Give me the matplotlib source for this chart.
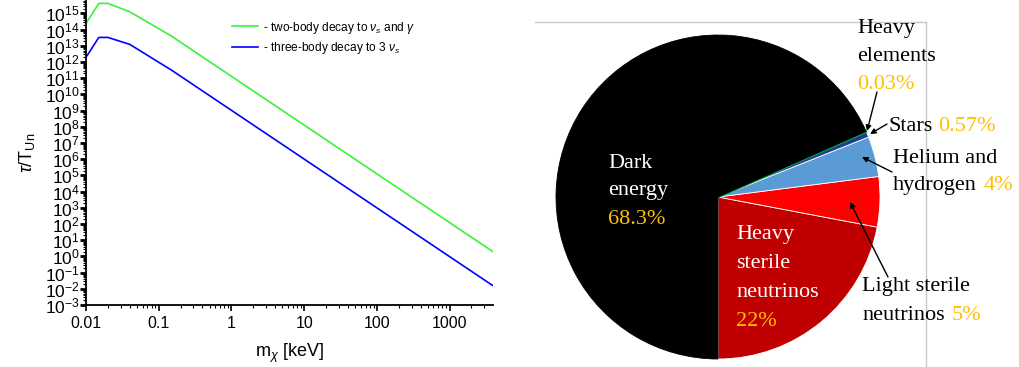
import numpy as np
import matplotlib
matplotlib.use("Agg")
import matplotlib.pyplot as plt
from matplotlib.ticker import LogLocator, NullFormatter
from matplotlib.lines import Line2D

# --- data: lifetime curves (log10 values) ---
m_kev = [0.01, 0.015, 0.02, 0.04, 0.15, 3960]
log_two_body = [14.39, 15.62, 15.62, 15.10, 13.60, 0.29]
log_three_body = [12.29, 13.52, 13.52, 13.09, 11.50, -1.81]
curve_labels = [r'- two-body decay to $\nu_s$ and $\gamma$',
                r'- three-body decay to 3 $\nu_s$']

# --- data: pie ---
pie_names = ['Heavy sterile neutrinos', 'Light sterile neutrinos',
             'Helium and hydrogen', 'Stars', 'Heavy elements', 'Dark energy']
pie_values = [22, 5, 4, 0.57, 0.03, 68.3]
pie_colors = ['#C00000', '#FF0000', '#5B9BD5', '#1F3C96', '#00B050', '#000000']

W, H = 1019, 367
fig = plt.figure(figsize=(W / 100, H / 100), dpi=100)
plt.rcParams['font.family'] = ['Liberation Sans', 'DejaVu Sans']
plt.rcParams['mathtext.fontset'] = 'custom'
plt.rcParams['mathtext.rm'] = 'Liberation Sans'
plt.rcParams['mathtext.it'] = 'Liberation Sans:italic'


def fx(x, y):
    # pixel position (from top-left) -> figure fraction
    return (x / W, 1 - y / H)


# ---------------- left panel ----------------
ax = fig.add_axes([86 / W, 1 - 305 / H, 407 / W, 305 / H])
ax.plot(m_kev, 10 ** np.array(log_two_body), color='#3CF03C', lw=1.2, label=curve_labels[0])
ax.plot(m_kev, 10 ** np.array(log_three_body), color='#0000FF', lw=1.2, label=curve_labels[1])
ax.set_xscale('log')
ax.set_yscale('log')
ax.set_xlim(0.01, 3960)
ax.set_ylim(1e-3, 10 ** 15.83)

ax.yaxis.set_major_locator(LogLocator(base=10, numticks=40))
ax.yaxis.set_minor_locator(LogLocator(base=10, subs=np.arange(2, 10), numticks=40))
ax.yaxis.set_minor_formatter(NullFormatter())
ax.xaxis.set_major_locator(LogLocator(base=10, numticks=20))
ax.xaxis.set_minor_locator(LogLocator(base=10, subs=np.arange(2, 10), numticks=20))
ax.xaxis.set_minor_formatter(NullFormatter())
ax.set_xticks([0.01, 0.1, 1, 10, 100, 1000])
ax.set_xticklabels(['0.01', '0.1', '1', '10', '100', '1000'])

for s in ['top', 'right']:
    ax.spines[s].set_visible(False)
for s in ['left', 'bottom']:
    ax.spines[s].set_linewidth(1.3)
ax.tick_params(axis='y', which='major', direction='out', length=4, width=2, labelsize=12.5, pad=0.5)
ax.tick_params(axis='y', which='minor', direction='out', length=2.5, width=0.8)
ax.tick_params(axis='x', which='major', direction='out', length=4, width=1.2, labelsize=11.5, pad=4)
ax.tick_params(axis='x', which='minor', direction='out', length=2.5, width=0.8)

ax.set_xlabel(r'm$_\chi$ [keV]', fontsize=13, labelpad=8)
ax.set_ylabel(r'$\tau$/T$_{\rm Un}$', fontsize=13, labelpad=6)

ax.legend(loc='upper left', bbox_to_anchor=(0.3587, 0.936), frameon=False,
          fontsize=8.6, borderpad=0, borderaxespad=0, handlelength=2.2,
          handletextpad=0.4, labelspacing=0.35)

# ---------------- right panel: pie ----------------
cx, cy, r = 718, 197, 162
ax2 = fig.add_axes([540 / W, 0, 479 / W, 1])
wedges, _ = ax2.pie(pie_values, colors=pie_colors, startangle=-90, counterclock=True,
                    radius=1, wedgeprops=dict(edgecolor='white', linewidth=0.6))
wedges[4].set_edgecolor(pie_colors[4])
wedges[4].set_linewidth(1.5)
wedges[5].set_edgecolor('#000000')
ax2.set_aspect('auto')
ax2.set_xlim((540 - cx) / r, (W - cx) / r)
ax2.set_ylim(-(H - cy) / r, cy / r)
ax2.axis('off')

# grey frame
fig.add_artist(Line2D([535 / W, 925.5 / W], [1 - 22 / H, 1 - 22 / H], color='#C8C8C8', lw=1))
fig.add_artist(Line2D([925.5 / W, 925.5 / W], [1 - 22 / H, 0], color='#C8C8C8', lw=1))

serif = ['Liberation Serif', 'DejaVu Serif']
gold = '#FFC000'
fs = 16

def put(x, y, s, color):
    fig.text(*fx(x, y), s, color=color, fontsize=fs, family=serif, ha='left', va='baseline')

# inside labels
put(608, 168, 'Dark', 'white')
put(608, 195, 'energy', 'white')
put(608, 224, '68.3%', gold)
put(736, 239, 'Heavy', 'white')
put(736, 268, 'sterile', 'white')
put(736, 297, 'neutrinos', 'white')
put(736, 326, '22%', gold)

# outside labels
put(857, 33, 'Heavy', 'black')
put(857, 61, 'elements', 'black')
put(857, 89, '0.03%', gold)
put(888, 131, 'Stars', 'black')
put(938, 131, '0.57%', gold)
put(893, 163, 'Helium and', 'black')
put(893, 190, 'hydrogen', 'black')
put(984, 190, '4%', gold)
put(862, 291, 'Light sterile', 'black')
put(862, 320, 'neutrinos', 'black')
put(952, 320, '5%', gold)

arrows = [((877, 92), (867, 131)), ((887, 124), (870, 134)),
          ((892, 172), (862, 157)), ((888, 277), (850, 202))]
for (x0, y0), (x1, y1) in arrows:
    ax2.annotate('', xy=fx(x1, y1), xycoords='figure fraction',
                 xytext=fx(x0, y0), textcoords='figure fraction',
                 arrowprops=dict(arrowstyle='-|>', color='black', lw=1,
                                 mutation_scale=8, shrinkA=0, shrinkB=0))

fig.savefig('out.png', dpi=100)
